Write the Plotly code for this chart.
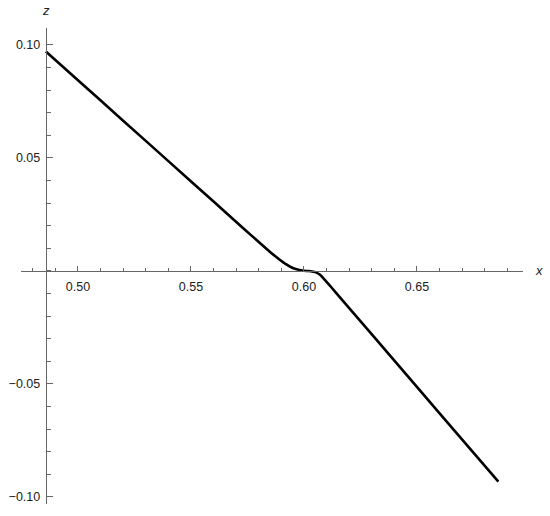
import plotly.graph_objects as go

# Curve values
x_vals = [0.4858, 0.50, 0.52, 0.54, 0.56, 0.573, 0.580, 0.585, 0.589, 0.592, 0.595,
          0.598, 0.601, 0.603, 0.605, 0.607, 0.609, 0.612, 0.616, 0.62, 0.64,
          0.66, 0.686]
z_vals = [0.0971, 0.0844, 0.0665, 0.0486, 0.0307, 0.0190, 0.0128, 0.0084, 0.0052,
          0.0030, 0.0013, 0.0004, 0.0000, -0.0001, -0.0005, -0.0016, -0.0037,
          -0.0071, -0.0118, -0.0164, -0.0397, -0.0630, -0.0932]

x_ticks = [0.50, 0.55, 0.60, 0.65]
x_ticktext = ["0.50", "0.55", "0.60", "0.65"]
z_ticks = [-0.10, -0.05, 0.05, 0.10]
z_ticktext = ["\u22120.10", "\u22120.05", "0.05", "0.10"]

x_range = [0.4748, 0.6969]
z_range = [-0.1031, 0.1075]
y_axis_at_x = 0.4858   # where the vertical axis crosses
x_axis_at_z = 0.0      # where the horizontal axis crosses

axis_color = "#666666"
font = dict(family="Liberation Sans, Arial, sans-serif", size=12.5, color="#222222")
label_font = dict(family="Liberation Sans, Arial, sans-serif", size=13, color="#222222")

fig = go.Figure()
fig.add_trace(go.Scatter(x=x_vals, y=z_vals, mode="lines",
                         line=dict(color="black", width=2.6, shape="spline", smoothing=0.5),
                         hoverinfo="skip", showlegend=False))

x_pos = (x_axis_at_z - z_range[0]) / (z_range[1] - z_range[0])
y_pos = (y_axis_at_x - x_range[0]) / (x_range[1] - x_range[0])

fig.update_layout(
    width=550, height=516,
    margin=dict(l=21, r=27, t=28, b=12, autoexpand=False),
    paper_bgcolor="white", plot_bgcolor="white",
    font=font,
    xaxis=dict(range=x_range, anchor="free", position=x_pos, automargin=False,
               showgrid=False, zeroline=False, showline=True,
               linecolor=axis_color, linewidth=1.2,
               tickvals=x_ticks, ticktext=x_ticktext,
               ticks="inside", ticklen=5, tickwidth=1, tickcolor=axis_color,
               minor=dict(dtick=0.01, tick0=0.0, ticks="inside", ticklen=3,
                          tickwidth=1, tickcolor=axis_color, showgrid=False),
               ticklabelstandoff=4, tickfont=font),
    yaxis=dict(range=z_range, anchor="free", position=y_pos, automargin=False,
               showgrid=False, zeroline=False, showline=True,
               linecolor=axis_color, linewidth=1.2,
               tickvals=z_ticks, ticktext=z_ticktext,
               ticks="inside", ticklen=6, tickwidth=1, tickcolor=axis_color,
               minor=dict(dtick=0.01, tick0=0.0, ticks="inside", ticklen=4,
                          tickwidth=1, tickcolor=axis_color, showgrid=False),
               ticklabelstandoff=3, tickfont=font),
    annotations=[
        dict(text="<i>x</i>", xref="paper", yref="paper", x=1.0, y=x_pos, xanchor="left",
             yanchor="middle", xshift=10, showarrow=False, font=label_font),
        dict(text="<i>z</i>", xref="paper", yref="paper", x=y_pos, y=1.0,
             xanchor="center", yanchor="bottom", yshift=8, showarrow=False,
             font=label_font),
    ],
)

fig.write_html("out.html", config={"displayModeBar": False},
               post_script="document.body.style.margin='0';document.body.style.overflow='hidden';")
